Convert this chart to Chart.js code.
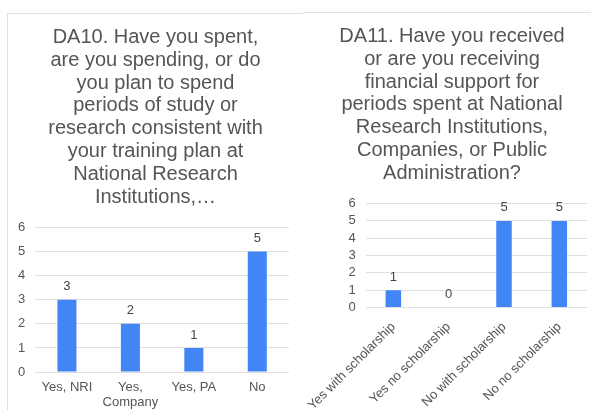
<!DOCTYPE html>
<html>
<head>
<meta charset="utf-8">
<script src="https://cdn.jsdelivr.net/npm/chart.js@4"></script>
<style>
    html, body { margin: 0; padding: 0; background: #fff; overflow: hidden; }
    body { width: 591px; height: 410px; position: relative; }
    .panel { position: absolute; box-sizing: border-box; border: 1px solid #e0e0e0; background: #fff; overflow: hidden; }
    #leftPanel { left: 7px; top: 13px; width: 297px; height: 420px; }
    #rightPanel { left: 303px; top: 12px; width: 300px; height: 420px; border-left: none; }
    canvas { display: block; }
</style>
</head>
<body>
<div id="leftPanel" class="panel"><canvas id="leftChart" width="295" height="396"></canvas></div>
<div id="rightPanel" class="panel"><canvas id="rightChart" width="298" height="404"></canvas></div>
<script>
// Chart data
const leftTitle = [
    'DA10. Have you spent,',
    'are you spending, or do',
    'you plan to spend',
    'periods of study or',
    'research consistent with',
    'your training plan at',
    'National Research',
    'Institutions,\u2026'
];
const leftCategories = ['Yes, NRI', ['Yes,', 'Company'], 'Yes, PA', 'No'];
const leftValues = [3, 2, 1, 5];

const rightTitle = [
    'DA11. Have you received',
    'or are you receiving',
    'financial support for',
    'periods spent at National',
    'Research Institutions,',
    'Companies, or Public',
    'Administration?'
];
const rightCategories = ['Yes with scholarship', 'Yes no scholarship', 'No with scholarship', 'No no scholarship'];
const rightValues = [1, 0, 5, 5];

const yMax = 6;

const FONT = "'Liberation Sans', Arial, sans-serif";
Chart.defaults.font.family = FONT;
Chart.defaults.color = '#555';

// Draw the value above each bar
const valueLabels = {
    id: 'valueLabels',
    afterDatasetsDraw(chart) {
        const ctx = chart.ctx;
        const meta = chart.getDatasetMeta(0);
        const values = chart.data.datasets[0].data;
        ctx.save();
        ctx.font = '13px ' + FONT;
        ctx.fillStyle = '#444';
        ctx.textAlign = 'center';
        ctx.textBaseline = 'middle';
        meta.data.forEach((bar, i) => {
            ctx.fillText(String(values[i]), bar.x, bar.y - 13);
        });
        ctx.restore();
    }
};

function makeChart(id, title, categories, values, opts) {
    return new Chart(document.getElementById(id), {
        type: 'bar',
        data: {
            labels: categories,
            datasets: [{
                data: values,
                backgroundColor: '#4285f4',
                barPercentage: opts.barPct,
                categoryPercentage: 1
            }]
        },
        options: {
            responsive: false,
            animation: false,
            layout: { padding: 0 },
            plugins: {
                legend: { display: false },
                tooltip: { enabled: false },
                title: {
                    display: true,
                    text: title,
                    color: '#555',
                    font: { size: 20, weight: 'normal', lineHeight: 1.14 },
                    padding: opts.titlePadding
                }
            },
            scales: {
                x: {
                    grid: { display: false },
                    border: { display: false },
                    ticks: {
                        color: '#555',
                        font: { size: 13, lineHeight: 1.15 },
                        autoSkip: false,
                        maxRotation: opts.rotation,
                        minRotation: opts.rotation,
                        padding: opts.xPad
                    }
                },
                y: {
                    min: 0,
                    max: yMax,
                    grid: { color: '#e0e0e0', drawTicks: false },
                    border: { display: false },
                    ticks: {
                        stepSize: 1,
                        autoSkip: false,
                        color: '#555',
                        font: { size: 13 },
                        padding: 10
                    }
                },
                // empty right gutter so the title stays centred on the panel
                gutter: {
                    position: 'right',
                    grid: { display: false },
                    border: { display: false },
                    ticks: { display: false },
                    afterFit(scale) { scale.width = opts.gutter; }
                }
            }
        },
        plugins: [valueLabels]
    });
}

makeChart('leftChart', leftTitle, leftCategories, leftValues, {
    barPct: 0.3,
    rotation: 0,
    xPad: 0,
    gutter: 14,
    titlePadding: { top: 12, bottom: 19 }
});

makeChart('rightChart', rightTitle, rightCategories, rightValues, {
    barPct: 0.28,
    rotation: 45,
    xPad: 4,
    gutter: 14,
    titlePadding: { top: 12, bottom: 19 }
});
</script>
</body>
</html>
